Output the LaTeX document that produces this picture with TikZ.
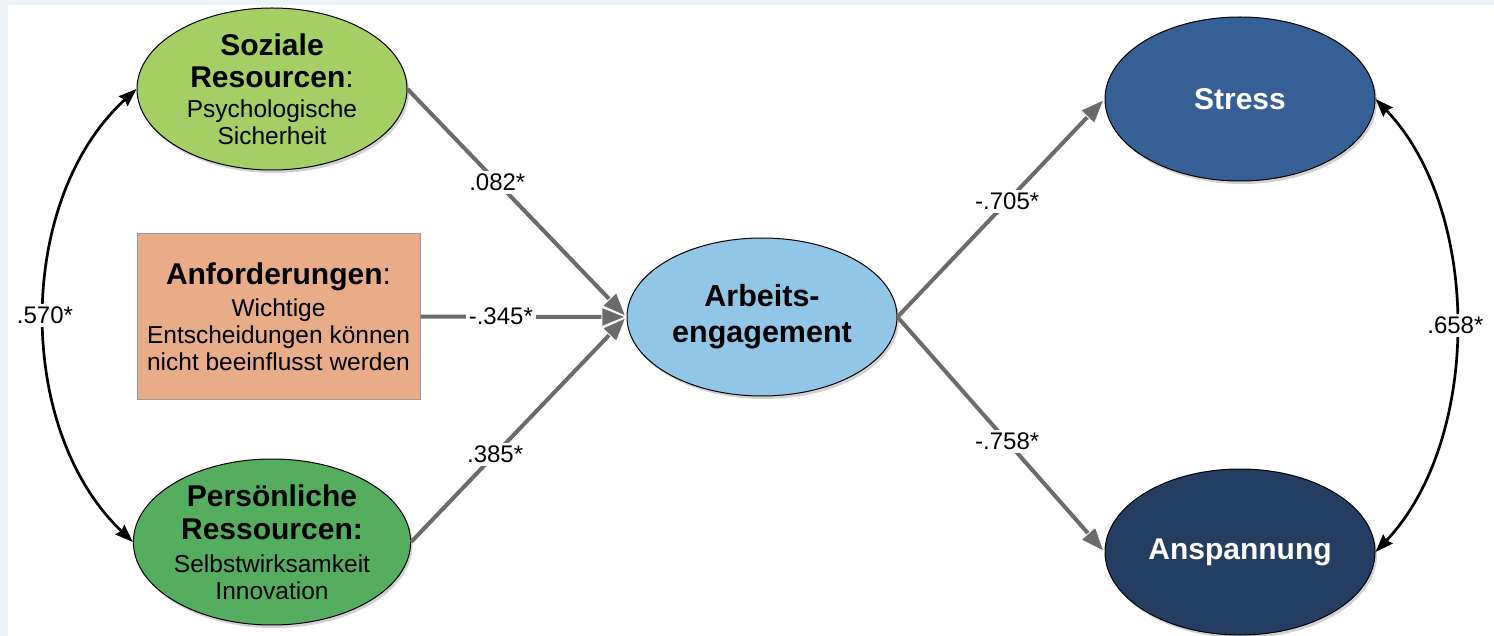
\documentclass[tikz,border=0pt]{standalone}
\usepackage{fontspec}
\setmainfont{Liberation Sans}
\usetikzlibrary{arrows.meta,shapes.geometric,shadows}
\definecolor{frameC}{HTML}{EDF2F6}
\definecolor{greenL}{HTML}{A3CF65}
\definecolor{greenD}{HTML}{55AE5F}
\definecolor{boxC}{HTML}{E8AD88}
\definecolor{boxB}{HTML}{9A9A9A}
\definecolor{blueL}{HTML}{92C6E6}
\definecolor{blueM}{HTML}{365F96}
\definecolor{blueD}{HTML}{243E62}
\definecolor{arrC}{HTML}{6B6B6B}
\newcommand{\bigbf}{\fontsize{30}{27}\selectfont\bfseries}
\tikzset{
  latent/.style={ellipse, draw=black, line width=1pt, minimum width=270pt, minimum height=162pt,
    inner sep=0pt, align=center, font=\fontsize{24.5}{27}\selectfont,
    drop shadow={opacity=0.35, shadow xshift=2pt, shadow yshift=-3pt}},
  patharr/.style={draw=arrC, line width=4pt,
    -{Triangle[length=25pt,width=20pt,fill=arrC,color=white,line width=0.8pt]}},
  corrarr/.style={draw=black, line width=2.7pt, {Stealth[length=18pt,width=13pt,inset=2pt]}-{Stealth[length=18pt,width=13pt,inset=2pt]}},
  coef/.style={fill=white, inner sep=3pt, font=\fontsize{24}{27}\selectfont, text=black}
}
\begin{document}
\begin{tikzpicture}[x=1pt,y=1pt]
\useasboundingbox (0,0) rectangle (1494,-636);
\fill[frameC] (0,0) rectangle (1494,-636);
\fill[white] (8,-5) rectangle (1494,-636);

\node[latent, fill=greenL] (soz) at (272,-89)
  {\bigbf Soziale\\[5pt]\bigbf Resourcen\mdseries:\\[3pt]Psychologische\\Sicherheit};
\node[latent, fill=greenD, minimum height=166pt] (pers) at (272,-542)
  {\bigbf Persönliche\\[6pt]\bigbf Ressourcen:\\[6pt]Selbstwirksamkeit\\Innovation};
\node[draw=boxB, fill=boxC, line width=1pt, minimum width=283pt, minimum height=165pt, inner sep=0pt,
  align=center, font=\fontsize{24.5}{27}\selectfont] (anf) at (278.5,-316.5)
  {\bigbf Anforderungen\mdseries:\\[5pt]Wichtige\\Entscheidungen können\\nicht beeinflusst werden};
\node[latent, fill=blueL, minimum height=158pt, font=\fontsize{30.5}{36}\selectfont\bfseries] (arb) at (762,-317)
  {Arbeits-\\engagement};
\node[latent, fill=blueM, minimum height=164pt, text=white, font=\fontsize{30}{36}\selectfont\bfseries] (str) at (1240,-99)
  {Stress};
\node[latent, fill=blueD, minimum height=166pt, text=white, font=\fontsize{30}{36}\selectfont\bfseries] (ans) at (1240,-552)
  {Anspannung};

\draw[patharr] (soz.east) -- node[coef, pos=0.41] {.082*} (arb.west);
\draw[patharr] (pers.east) -- node[coef, pos=0.39] {.385*} (arb.west);
\draw[patharr] (anf.east) -- node[coef, pos=0.39] {-.345*} (arb.west);
\draw[patharr] (arb.east) -- node[coef, pos=0.53] {-.705*} (str.west);
\draw[patharr] (arb.east) -- node[coef, pos=0.53] {-.758*} (ans.west);

\draw[corrarr] (soz.west) .. controls (15,-200) and (15,-430) .. node[coef, pos=0.5] {.570*} (pers.west);
\draw[corrarr] (str.east) .. controls (1482,-210) and (1482,-440) .. node[coef, pos=0.5] {.658*} (ans.east);
\end{tikzpicture}
\end{document}
